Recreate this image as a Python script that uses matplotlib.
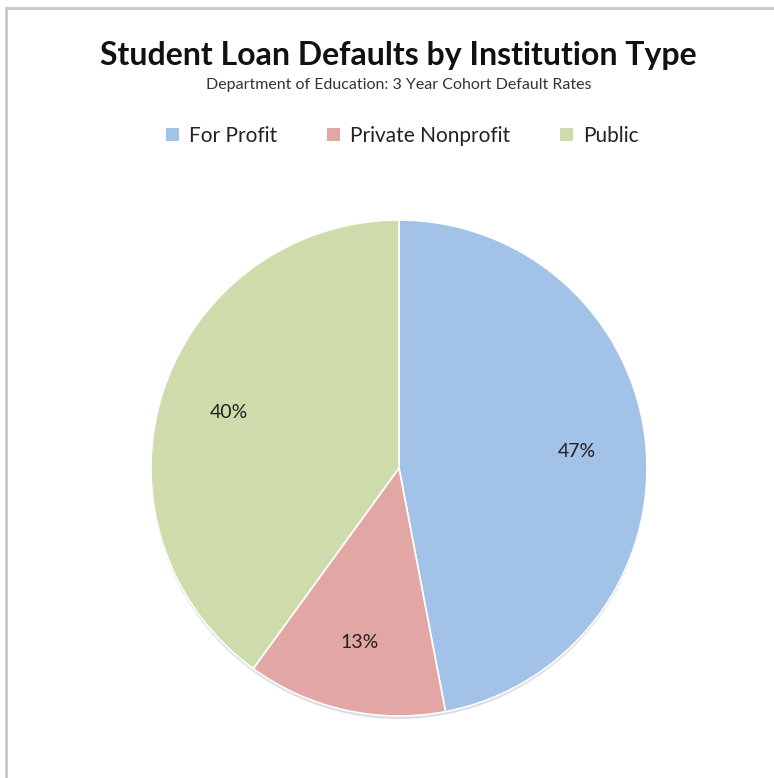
import matplotlib
matplotlib.use('Agg')
import numpy as np
import matplotlib.pyplot as plt
from matplotlib.patches import Patch, Rectangle, Circle

categories = ['For Profit', 'Private Nonprofit', 'Public']
shares = [47, 13, 40]
colors = ['#A3C2E7', '#E2A6A5', '#CEDCAB']

plt.rcParams['font.family'] = ['Lato', 'DejaVu Sans']

fig = plt.figure(figsize=(7.74, 7.78), dpi=100)
fig.patch.set_facecolor('white')

# chart border (left and top edges visible)
fig.add_artist(Rectangle((6 / 774, -0.01), 1.0, 1 - 8 / 778 + 0.01, transform=fig.transFigure,
                         fill=False, edgecolor='#C8C8C8', lw=2))

R = 248 * 1.02
ax = fig.add_axes([(399 - R) / 774, (778 - 468 - R) / 778, 2 * R / 774, 2 * R / 778])
# faint drop shadow under the pie
ax.add_patch(Circle((0.0, -0.012), 1.0, facecolor='#DDDDDD', edgecolor='none', zorder=0))
wedges, texts = ax.pie(shares, colors=colors, startangle=90, counterclock=False,
                       wedgeprops=dict(edgecolor='white', linewidth=1.2))
ax.set_xlim(-1.02, 1.02)
ax.set_ylim(-1.02, 1.02)
ax.set_aspect('equal')

for w, v in zip(wedges, shares):
    ang = np.deg2rad((w.theta1 + w.theta2) / 2)
    ax.text(0.72 * np.cos(ang), 0.72 * np.sin(ang), '%d%%' % v,
            ha='center', va='center', fontsize=14, color='#222222')

fig.text(0.515, 1 - 55 / 778, 'Student Loan Defaults by Institution Type',
         ha='center', va='center', fontsize=23, fontweight='bold', color='#111111')
fig.text(0.515, 1 - 85 / 778, 'Department of Education: 3 Year Cohort Default Rates',
         ha='center', va='center', fontsize=11.5, color='#333333')

handles = [Patch(facecolor=c, edgecolor='none') for c in colors]
fig.legend(handles, categories, loc='center', bbox_to_anchor=(0.52, 1 - 136 / 778),
           ncol=3, frameon=False, fontsize=15, handlelength=0.6, handleheight=0.6,
           handletextpad=0.5, columnspacing=2.4, labelcolor='#222222')

fig.savefig('out.png', dpi=100)
